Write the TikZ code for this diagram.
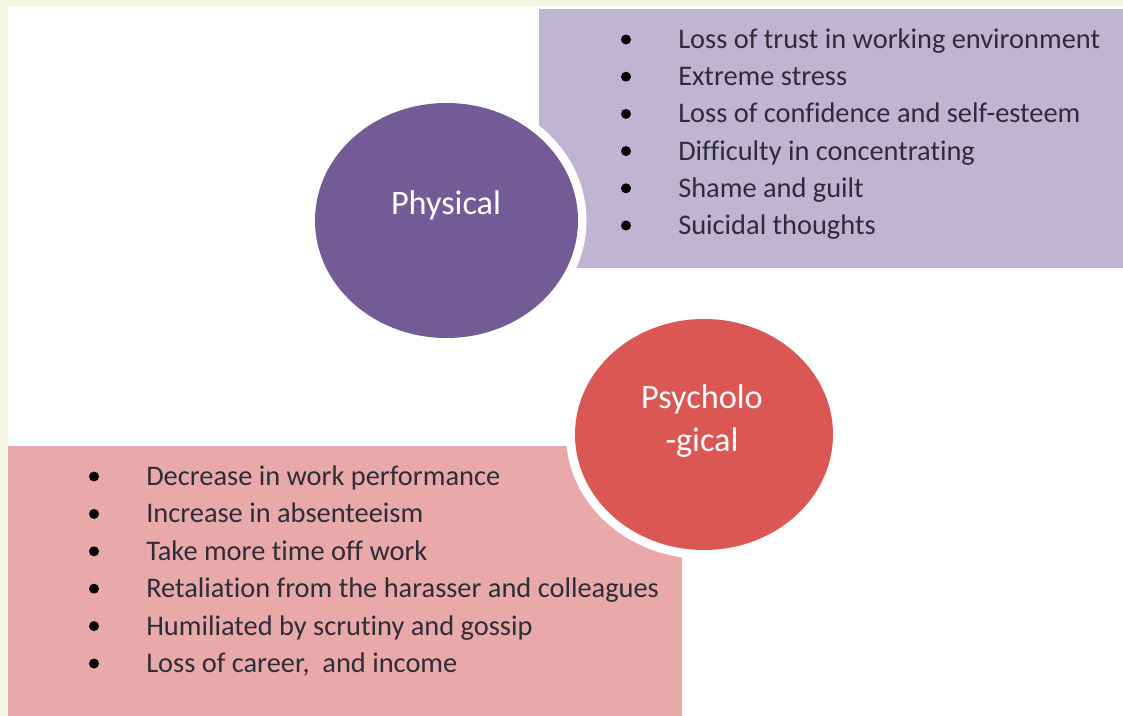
\documentclass[tikz,border=0pt]{standalone}
\usepackage{fontspec}
\setmainfont{Carlito}[Ligatures=NoCommon]
\usetikzlibrary{shapes.geometric}
\definecolor{bgreen}{RGB}{242,246,224}
\definecolor{lav}{RGB}{191,181,211}
\definecolor{purp}{RGB}{115,92,150}
\definecolor{pinkbox}{RGB}{232,169,168}
\definecolor{redc}{RGB}{218,87,83}
\definecolor{txt}{RGB}{45,45,58}
\tikzset{
  item/.style={anchor=base west, inner sep=0pt, text=txt, font=\fontsize{21.3pt}{25pt}\selectfont},
  dot/.style={circle, fill=black, inner sep=0pt, minimum size=7.5pt},
  lbl/.style={anchor=base, inner sep=0pt, text=white, font=\fontsize{25.7pt}{30pt}\selectfont},
  blob/.style={ellipse, inner sep=0pt},
}
\begin{document}
\begin{tikzpicture}[x=0.75pt,y=-0.75pt]
\useasboundingbox (0,0) rectangle (1123,716);
% background frame
\fill[white] (0,0) rectangle (1123,716);
\fill[bgreen] (0,0) rectangle (1123,6);
\fill[bgreen] (0,0) rectangle (8,716);
% boxes
\fill[lav] (539,9) rectangle (1123,268);
\fill[pinkbox] (8,446) rectangle (682,716);
% rings and circles
\node[blob, fill=white, minimum width=210pt, minimum height=189.75pt] (phring) at (446.5,220.5) {};
\node[blob, fill=purp, minimum width=197.25pt, minimum height=176.25pt] (phys) at (446.5,220.5) {};
\node[blob, fill=white, minimum width=207pt, minimum height=186.75pt] (psring) at (704,434.5) {};
\node[blob, fill=redc, minimum width=193.5pt, minimum height=173.25pt] (psych) at (704,434.5) {};
% circle labels
\node[lbl] (physlbl) at (446,214.5) {Physical};
\node[lbl] (psylbl1) at (702,408.5) {Psycholo};
\node[lbl] (psylbl2) at (702,451.5) {-gical};
% top list
\foreach \t [count=\i] in {Loss of trust in working environment,Extreme stress,Loss of confidence and self-esteem,Difficulty in concentrating,Shame and guilt,Suicidal thoughts}{
  \node[dot] (tb\i) at (626,{48.5+37.2*(\i-1)-9}) {};
  \node[item] (tt\i) at (678,{48.5+37.2*(\i-1)}) {\t};
}
% bottom list
\foreach \t [count=\i] in {Decrease in work performance,Increase in absenteeism,Take more time off work,Retaliation from the harasser and colleagues,Humiliated by scrutiny and gossip,{Loss of career,\ \ and income}}{
  \node[dot] (bb\i) at (94,{485.5+37.4*(\i-1)-9}) {};
  \node[item] (bt\i) at (146,{485.5+37.4*(\i-1)}) {\t};
}
\end{tikzpicture}
\end{document}
